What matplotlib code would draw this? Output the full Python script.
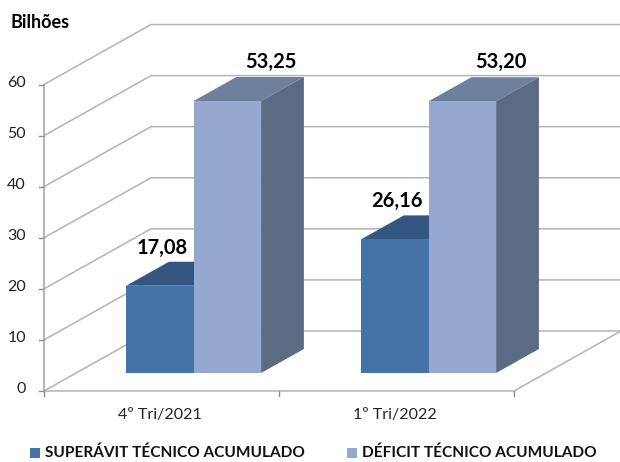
import matplotlib
matplotlib.use('Agg')
import matplotlib.pyplot as plt
from matplotlib.patches import Polygon, Rectangle

categories = ['4º Tri/2021', '1º Tri/2022']
superavit = [17.08, 26.16]
deficit = [53.25, 53.20]
value_labels = [['17,08', '26,16'], ['53,25', '53,20']]
series_names = ['SUPERÁVIT TÉCNICO ACUMULADO', 'DÉFICIT TÉCNICO ACUMULADO']
yticks = [0, 10, 20, 30, 40, 50, 60]

W, H = 620, 462
X0, CAT_W = 44, 235       # px
Y0, PX_PER_VAL = 391, 5.108
DEPTH_X = 107 / CAT_W     # wall depth in category units
DEPTH_Y = 60 / PX_PER_VAL # wall depth in value units

plt.rcParams['font.family'] = ['Lato', 'DejaVu Sans']
fig = plt.figure(figsize=(W / 100, H / 100), dpi=100)
ax = fig.add_axes([0, 0, 1, 1])
ax.set_xlim(-X0 / CAT_W, (W - X0) / CAT_W)
ax.set_ylim((Y0 - H) / PX_PER_VAL, Y0 / PX_PER_VAL)
ax.axis('off')

def proj(x, v, d=0.0):
    return (x + d * DEPTH_X, v + d * DEPTH_Y)

grid_c = '#b4b4b4'
n = len(categories)
for t in yticks:
    xs, ys = zip(proj(0, t), proj(0, t, 1), proj(n, t, 1))
    ax.plot(xs, ys, color=grid_c, lw=1.1, zorder=1, solid_joinstyle='miter')
    ax.plot([-5 / CAT_W, 0], [t, t], color='#8c8c8c', lw=1, zorder=2)
    ax.text(-18 / CAT_W, t + 0.3, str(t), ha='right', va='center', fontsize=11.5, color='#222222')

# floor and axes
xs, ys = zip(proj(0, 0), proj(n, 0), proj(n, 0, 1))
ax.plot(xs, ys, color=grid_c, lw=1.1, zorder=2)
ax.plot([0, 0], [0, yticks[-1]], color='#a0a0a0', lw=1.1, zorder=2)
for i in range(n + 1):
    ax.plot([i, i], [0, -5 / PX_PER_VAL], color='#8c8c8c', lw=1, zorder=2)
for i, c in enumerate(categories):
    ax.text(i + 0.5 - 2 / CAT_W, -23.5 / PX_PER_VAL, c, ha='center', va='center', fontsize=11.5, color='#222222')

D1, D2 = 0.3, 0.7
BAR_W = 67.5 / CAT_W
OFFS = 50 / CAT_W

def bar3d(x, val, front, top, side, z):
    x2 = x + BAR_W
    ax.add_patch(Polygon([proj(x, val, D1), proj(x2, val, D1), proj(x2, val, D2), proj(x, val, D2)],
                         fc=top, ec='none', zorder=z))
    ax.add_patch(Polygon([proj(x2, 0, D1), proj(x2, val, D1), proj(x2, val, D2), proj(x2, 0, D2)],
                         fc=side, ec='none', zorder=z))
    ax.add_patch(Polygon([proj(x, 0, D1), proj(x2, 0, D1), proj(x2, val, D1), proj(x, val, D1)],
                         fc=front, ec='none', zorder=z + 0.1))

for i in range(n):
    x = i + OFFS
    bar3d(x, superavit[i], '#4573a7', '#345781', '#2f4f76', 3 + i)
    bar3d(x + BAR_W, deficit[i], '#95a9d0', '#6f7f9e', '#5c6b84', 3.5 + i)

# labels placed in px from the bar's unprojected corner
low_dx = [68, 68]
high_dx = [109.5, 104.5]
for i in range(n):
    x = i + OFFS
    ax.text(x + low_dx[i] / CAT_W, superavit[i] + 56 / PX_PER_VAL, value_labels[0][i], ha='center', va='center',
            fontsize=14.5, fontweight='bold', color='black', zorder=10)
    ax.text(x + BAR_W + high_dx[i] / CAT_W, deficit[i] + 57 / PX_PER_VAL, value_labels[1][i], ha='center', va='center',
            fontsize=14.5, fontweight='bold', color='black', zorder=10)

ax.text(10 / W, 1 - 23 / H, 'Bilhões', transform=ax.transAxes, ha='left', va='center',
        fontsize=13, fontweight='bold', color='black')

# legend
for px, name, col in [(30, series_names[0], '#4573a7'), (347, series_names[1], '#95a9d0')]:
    ax.add_patch(Rectangle((px / W, 1 - 458 / H), 10 / W, 10 / H, transform=ax.transAxes,
                           fc=col, ec='none', zorder=5))
    ax.text((px + 15) / W, 1 - 453 / H, name, transform=ax.transAxes, ha='left', va='center',
            fontsize=11.1, fontweight='bold', color='#111111')

fig.savefig('out.png', dpi=100, facecolor='white')
